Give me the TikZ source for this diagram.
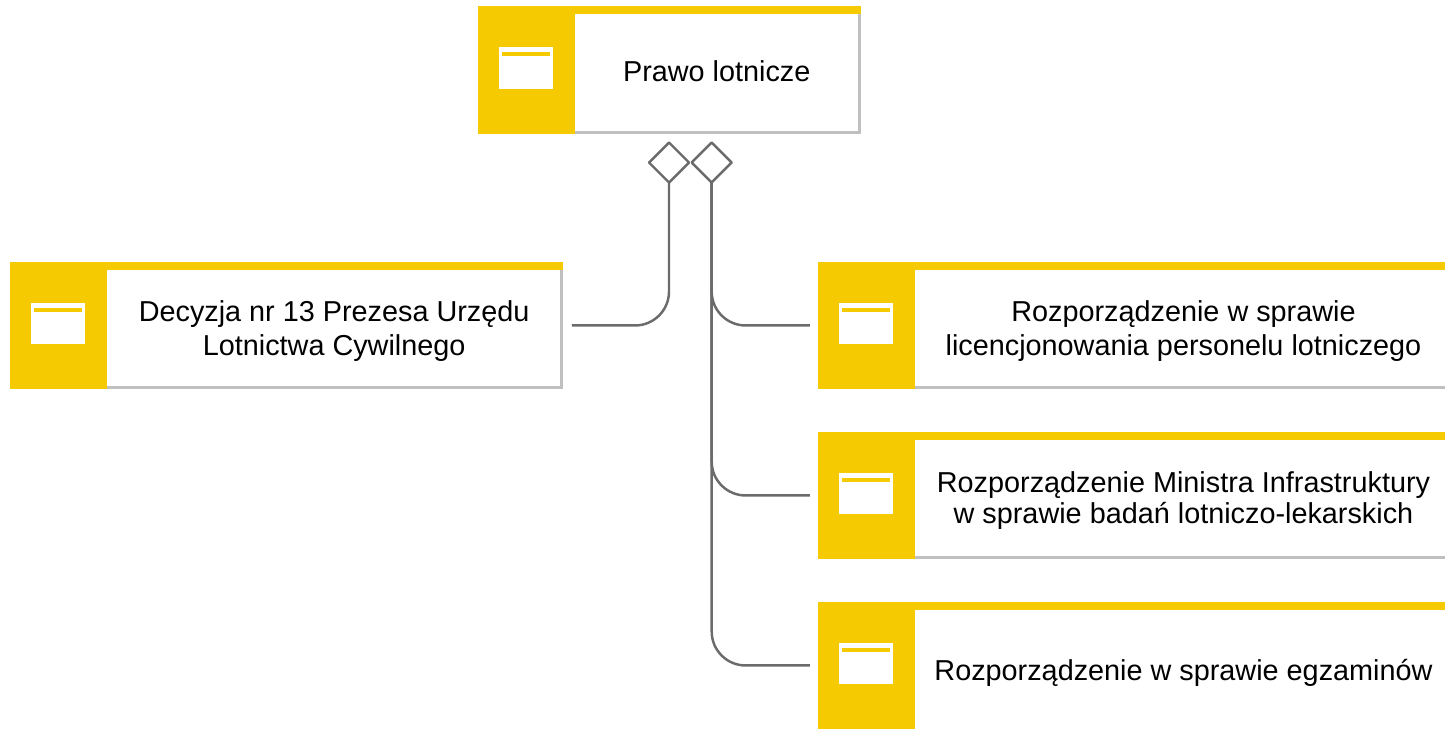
\documentclass[tikz,border=0pt]{standalone}
\usepackage{fontspec}
\setmainfont{Liberation Sans}
\usetikzlibrary{calc,shapes.geometric}
\definecolor{cardyellow}{HTML}{F6CA00}
\definecolor{edgegray}{HTML}{C0C0C0}
\definecolor{linegray}{HTML}{6B6B6B}
\begin{document}
\begin{tikzpicture}[line join=round, x=0.02cm, y=-0.02cm]
        \tikzset{card/.style={fill=cardyellow,anchor=north west,inner sep=0pt,outer sep=0pt,minimum height=127.5*0.02cm}}
        \tikzset{cardtext/.style={anchor=base,align=center,inner sep=0pt,text=black,font=\fontsize{16.4}{19.3}\selectfont}}
        \tikzset{link/.style={draw=linegray,line width=1.4pt,rounded corners=19.3pt}}
        \tikzset{rhomb/.style={diamond,draw=linegray,line width=1.4pt,fill=white,inner sep=0pt,outer sep=0pt,minimum width=40*0.02cm,minimum height=40*0.02cm}}
        \useasboundingbox (0,0) rectangle (1445,728);
        \begin{scope}
        \clip (0,0) rectangle (1445,728);
        \foreach \nm/\xa/\ya/\bw/\bh/\ty/\tx in {
            prawo/478/6/382.5/127.5/81/{Prawo lotnicze},
            decyzja/10.3/261.7/552.7/127.5/355.4/{Decyzja nr 13 Prezesa Urzędu\\Lotnictwa Cywilnego},
            licencje/818/261.7/636/127.5/355.7/{Rozporządzenie w sprawie\\licencjonowania personelu lotniczego},
            badania/818/431.7/636/127.5/523.3/{Rozporządzenie Ministra Infrastruktury\\[-1.9pt]w sprawie badań lotniczo-lekarskich},
            egzaminy/818/601.7/636/140/680/{Rozporządzenie w sprawie egzaminów}}{
            \node[card,minimum width=\bw*0.02cm] (\nm) at (\xa,\ya) {};
            \fill[edgegray] (\xa+97,\ya+8) rectangle (\xa+\bw,\ya+\bh);
            \fill[white] (\xa+97,\ya+8) rectangle (\xa+\bw-3,\ya+\bh-3);
            % icon
            \fill[white] (\xa+21,\ya+41) rectangle (\xa+74.7,\ya+82.5);
            \fill[cardyellow] (\xa+24,\ya+46) rectangle (\xa+72,\ya+50);
            \node[cardtext] (\nm txt) at (\xa+97/2+\bw/2-1,\ty) {\tx};
        }
        \end{scope}
        \node[rhomb] (dmleft) at (669,162.5) {};
        \node[rhomb] (dmright) at (711.7,162.5) {};
        \draw[link,shorten >=5.1pt] (dmleft.south) |- (decyzja.east);
        \foreach \nm in {licencje,badania,egzaminy}
            \draw[link,shorten >=4.6pt] (dmright.south) |- (\nm.west);
\end{tikzpicture}
\end{document}
